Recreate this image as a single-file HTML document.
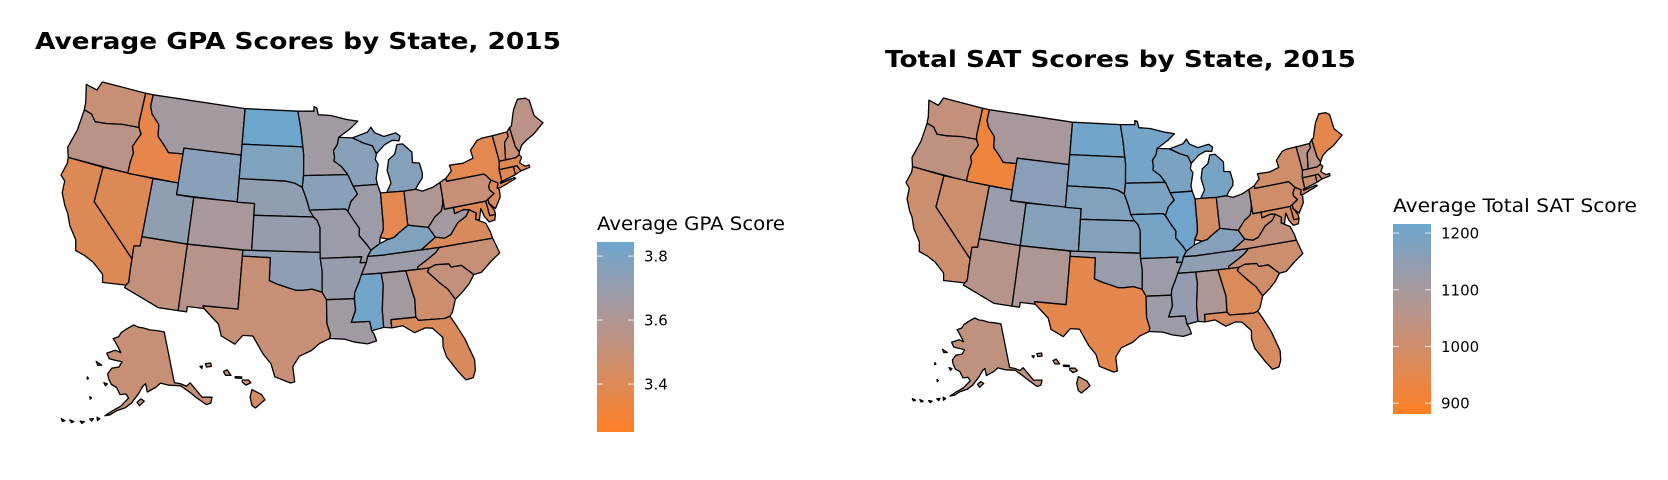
<!DOCTYPE html>
<html><head><meta charset="utf-8">
<style>
html,body{margin:0;padding:0;background:#fff;}
svg{display:block;}
text{font-family:"DejaVu Sans","Liberation Sans",sans-serif;}
</style></head>
<body>
<svg id="chart" width="1668" height="480" viewBox="0 0 1668 480" xmlns="http://www.w3.org/2000/svg">
<rect width="1668" height="480" fill="#fff"/>
<text x="35" y="49" font-size="23" font-weight="bold" textLength="526" lengthAdjust="spacingAndGlyphs">Average GPA Scores by State, 2015</text>
<text x="885" y="67" font-size="23" font-weight="bold" textLength="471" lengthAdjust="spacingAndGlyphs">Total SAT Scores by State, 2015</text>
<g id="gpaMap"></g>
<g id="satMap"></g>
<g id="gpaLegend"></g>
<g id="satLegend"></g>
</svg>
<script>
// ---- data ----
const states = ["WA","OR","CA","NV","ID","MT","WY","UT","CO","AZ","NM","ND","SD","NE","KS","OK","TX","MN","IA","MO","AR","LA","WI","IL","MI","IN","OH","KY","TN","MS","AL","GA","FL","SC","NC","VA","WV","PA","NY","VT","NH","ME","MA","CT","RI","NJ","DE","MD","AK","HI"];
const gpaValues = [3.50,3.55,3.40,3.40,3.36,3.65,3.75,3.72,3.63,3.52,3.57,3.84,3.78,3.72,3.70,3.73,3.50,3.66,3.75,3.68,3.70,3.66,3.75,3.68,3.76,3.38,3.60,3.78,3.68,3.82,3.65,3.47,3.42,3.52,3.50,3.42,3.65,3.50,3.38,3.45,3.50,3.55,3.40,3.40,3.40,3.42,3.45,3.40,3.50,3.45];
const satValues = [1030,1040,1010,1005,920,1095,1160,1130,1165,1060,1080,1205,1190,1175,1170,1130,950,1200,1185,1195,1125,1120,1190,1210,1195,990,1110,1165,1150,1140,1080,970,980,1000,1010,1030,1000,1000,1000,1050,1050,950,1020,1020,990,1000,960,990,1040,1020];
const gpaTicks = [3.4,3.6,3.8];
const gpaTickLabels = ["3.4","3.6","3.8"];
const satTicks = [900,1000,1100,1200];
const satTickLabels = ["900","1000","1100","1200"];
const gpaDomain = [3.25,3.844];
const satDomain = [881,1216];

// ---- geometry (lon/lat outlines) ----
const G = {
WA:[[[-124.7,48.4],[-123.2,48.2],[-122.8,49],[-117.03,49],[-117.03,46.4],[-116.92,46.0],[-119,45.93],[-121,45.65],[-122.3,45.55],[-123.0,46.1],[-124.0,46.27],[-124.1,46.9]]],
OR:[[[-124.0,46.27],[-123.0,46.1],[-122.3,45.55],[-121,45.65],[-119,45.93],[-116.92,46.0],[-116.5,45.5],[-117.2,44.3],[-116.9,43.8],[-117.03,43.0],[-117.03,42.0],[-124.2,42.0],[-124.6,42.8],[-124.1,44.5]]],
CA:[[[-124.2,42],[-120,42],[-120,39],[-114.63,35.0],[-114.6,34.3],[-114.5,33.0],[-114.72,32.72],[-117.12,32.53],[-117.3,33.2],[-118.5,34.0],[-119.6,34.4],[-120.6,34.6],[-120.9,35.5],[-121.9,36.5],[-122.5,37.5],[-123.0,38.0],[-123.7,39.0],[-123.8,40.0],[-124.4,40.4],[-124.1,41.5]]],
NV:[[[-120,42],[-114.04,42],[-114.04,36.2],[-114.7,36.1],[-114.63,35.0],[-120,39]]],
ID:[[[-117.03,49],[-116.05,49],[-116.05,47.98],[-115.7,47.4],[-114.6,46.6],[-114.4,45.6],[-113.4,44.9],[-112.8,44.4],[-111.05,44.5],[-111.05,42],[-117.03,42],[-117.03,43.0],[-116.9,43.8],[-117.2,44.3],[-116.5,45.5],[-116.92,46.0],[-117.03,46.4]]],
MT:[[[-116.05,49],[-104.05,49],[-104.05,45],[-111.05,45],[-111.05,44.5],[-112.8,44.4],[-113.4,44.9],[-114.4,45.6],[-114.6,46.6],[-115.7,47.4],[-116.05,47.98]]],
WY:[[[-111.05,45],[-104.05,45],[-104.05,41],[-111.05,41]]],
UT:[[[-114.04,42],[-111.05,42],[-111.05,41],[-109.05,41],[-109.05,37],[-114.04,37]]],
CO:[[[-109.05,41],[-102.05,41],[-102.05,37],[-109.05,37]]],
AZ:[[[-114.04,37],[-109.05,37],[-109.05,31.33],[-111.07,31.33],[-114.82,32.5],[-114.72,32.72],[-114.5,33.0],[-114.6,34.3],[-114.63,35.0],[-114.7,36.1],[-114.04,36.2]]],
NM:[[[-109.05,37],[-103.0,37],[-103.06,32.0],[-106.62,32.0],[-106.5,31.78],[-108.2,31.78],[-108.2,31.33],[-109.05,31.33]]],
ND:[[[-104.05,49],[-97.23,49],[-96.85,47.6],[-96.56,45.94],[-104.05,45.94]]],
SD:[[[-104.05,45.94],[-96.56,45.94],[-96.45,45.3],[-96.45,43.5],[-96.6,42.5],[-97.5,42.85],[-98.5,43.0],[-104.05,43]]],
NE:[[[-104.05,43],[-98.5,43.0],[-97.5,42.85],[-96.6,42.5],[-96.1,41.5],[-95.9,41.0],[-95.3,40.0],[-102.05,40],[-102.05,41],[-104.05,41]]],
KS:[[[-102.05,40],[-95.3,40.0],[-94.9,39.7],[-94.6,39.1],[-94.62,37],[-102.05,37]]],
OK:[[[-103.0,37],[-94.62,37],[-94.43,35.4],[-94.48,33.64],[-95.5,33.9],[-96.5,33.8],[-97.2,33.8],[-98,34.0],[-99.2,34.3],[-100,34.56],[-100,36.5],[-103.0,36.5]]],
TX:[[[-103.0,36.5],[-100,36.5],[-100,34.56],[-99.2,34.3],[-98,34.0],[-97.2,33.8],[-96.5,33.8],[-95.5,33.9],[-94.48,33.64],[-94.04,33.0],[-94.04,31.0],[-93.7,30.0],[-93.8,29.7],[-94.8,29.3],[-95.6,28.7],[-96.8,28.2],[-97.4,27.3],[-97.2,26.0],[-97.6,25.9],[-99.1,26.4],[-99.5,27.5],[-100.3,28.3],[-101.4,29.8],[-102.4,29.8],[-103.1,29.0],[-104.5,29.6],[-104.9,30.6],[-106.5,31.78],[-106.62,32.0],[-103.06,32.0]]],
MN:[[[-97.23,49],[-95.15,49],[-95.15,49.38],[-94.8,49.3],[-94.6,48.7],[-93.0,48.6],[-91.0,48.2],[-89.6,48.0],[-90.6,47.4],[-92.1,46.7],[-92.3,46.1],[-92.8,45.6],[-92.7,45.0],[-92.8,44.7],[-91.9,44.2],[-91.2,43.5],[-96.45,43.5],[-96.45,45.3],[-96.56,45.94],[-96.85,47.6]]],
WI:[[[-92.1,46.7],[-90.4,46.6],[-89.1,46.1],[-88.0,45.8],[-87.6,45.1],[-87.8,44.6],[-87.5,44.2],[-87.9,43.0],[-87.8,42.5],[-90.64,42.5],[-91.2,43.5],[-91.9,44.2],[-92.8,44.7],[-92.7,45.0],[-92.8,45.6],[-92.3,46.1]]],
MI:[[[-86.8,41.76],[-84.8,41.7],[-83.45,41.73],[-83.1,42.1],[-82.5,42.6],[-82.4,43.0],[-82.6,43.9],[-83.4,44.0],[-83.3,44.9],[-84.3,45.7],[-85.0,45.7],[-85.4,44.9],[-86.2,44.5],[-86.5,43.6],[-86.2,42.5]],[[-90.4,46.6],[-88.5,47.0],[-88,47.4],[-87.6,46.9],[-86.5,46.5],[-85,46.7],[-84.5,46.4],[-84.7,46.0],[-85.5,46.1],[-86.5,45.8],[-87.6,45.1],[-88.0,45.8],[-89.1,46.1]]],
IA:[[[-96.45,43.5],[-91.2,43.5],[-90.64,42.5],[-90.2,41.8],[-91.0,41.2],[-91.4,40.4],[-91.7,40.6],[-95.77,40.58],[-95.9,41.0],[-96.1,41.5],[-96.6,42.5]]],
MO:[[[-95.77,40.58],[-91.7,40.6],[-91.4,40.4],[-90.7,39.5],[-90.2,38.9],[-90.3,38.3],[-89.5,37.5],[-89.1,37.0],[-89.5,36.5],[-89.7,36.0],[-90.37,36.0],[-90.15,36.5],[-94.62,36.5],[-94.62,37],[-94.6,39.1],[-94.9,39.7],[-95.3,40.0]]],
AR:[[[-94.62,36.5],[-90.15,36.5],[-90.37,36.0],[-89.7,36.0],[-90.1,35.0],[-90.6,34.4],[-91.1,33.5],[-91.17,33.0],[-94.04,33.0],[-94.48,33.64],[-94.43,35.4]]],
LA:[[[-94.04,33.0],[-91.17,33.0],[-91.1,32.0],[-91.6,31.0],[-89.75,31.0],[-89.6,30.2],[-89.4,29.9],[-89.2,29.3],[-90.1,29.1],[-91.3,29.3],[-92.3,29.6],[-93.8,29.7],[-93.7,30.0],[-94.04,31.0]]],
MS:[[[-91.17,33.0],[-91.1,33.5],[-90.6,34.4],[-90.3,35.0],[-88.2,35.0],[-88.1,34.0],[-88.4,31.9],[-88.4,30.4],[-89.6,30.2],[-89.75,31.0],[-91.6,31.0],[-91.1,32.0]]],
AL:[[[-88.2,35.0],[-85.6,35.0],[-85.0,32.5],[-85.1,31.0],[-87.6,31.0],[-87.6,30.3],[-88.4,30.4],[-88.4,31.9],[-88.1,34.0]]],
TN:[[[-90.3,35.0],[-89.7,36.0],[-89.5,36.5],[-88.0,36.5],[-81.7,36.6],[-82.2,36.2],[-83.0,35.8],[-84.3,35.2],[-84.3,35.0],[-88.2,35.0]]],
KY:[[[-89.5,36.5],[-89.1,37.0],[-88.1,37.5],[-87.1,37.8],[-86.5,37.9],[-85.8,38.3],[-84.8,38.8],[-83.7,38.6],[-82.6,38.4],[-81.97,37.5],[-83.7,36.6],[-88.0,36.5]]],
IL:[[[-90.64,42.5],[-87.8,42.5],[-87.53,41.76],[-87.53,39.3],[-87.6,38.6],[-88.0,38.0],[-88.1,37.5],[-89.1,37.0],[-89.5,37.5],[-90.3,38.3],[-90.2,38.9],[-90.7,39.5],[-91.4,40.4],[-91.0,41.2],[-90.2,41.8]]],
IN:[[[-87.53,41.76],[-84.8,41.7],[-84.82,39.1],[-84.8,38.8],[-85.8,38.3],[-86.5,37.9],[-87.1,37.8],[-88.0,38.0],[-87.6,38.6],[-87.53,39.3]]],
OH:[[[-84.8,41.7],[-83.45,41.73],[-82.7,41.5],[-81.4,41.7],[-80.52,42.0],[-80.52,40.64],[-80.6,40.2],[-80.9,39.6],[-81.7,39.2],[-82.6,38.4],[-83.7,38.6],[-84.8,38.8],[-84.82,39.1]]],
WV:[[[-80.52,40.64],[-80.52,39.72],[-79.48,39.72],[-79.48,39.2],[-78.4,39.4],[-77.8,39.3],[-78.3,38.8],[-79.3,38.4],[-80.3,37.5],[-81.0,37.3],[-81.97,37.5],[-82.6,38.4],[-81.7,39.2],[-80.9,39.6],[-80.6,40.2]]],
VA:[[[-83.7,36.6],[-81.97,37.5],[-81.0,37.3],[-80.3,37.5],[-79.3,38.4],[-78.3,38.8],[-77.8,39.3],[-77.1,38.9],[-77.3,38.4],[-76.3,37.9],[-76.0,37.1],[-75.9,36.55],[-81.7,36.6]]],
NC:[[[-84.3,35.0],[-84.3,35.2],[-83.0,35.8],[-82.2,36.2],[-81.7,36.6],[-75.9,36.55],[-75.5,35.2],[-76.5,34.7],[-77.8,33.9],[-78.6,33.85],[-79.7,34.8],[-80.8,34.8],[-81.0,35.1],[-82.4,35.2],[-83.1,35.0]]],
SC:[[[-83.1,35.0],[-82.4,35.2],[-81.0,35.1],[-80.8,34.8],[-79.7,34.8],[-78.6,33.85],[-79.2,33.2],[-80.0,32.6],[-80.9,32.05],[-81.5,33.0],[-82.2,33.6],[-83.35,34.7]]],
GA:[[[-85.6,35.0],[-83.1,35.0],[-83.35,34.7],[-82.2,33.6],[-81.5,33.0],[-80.9,32.05],[-81.4,31.0],[-81.7,30.7],[-82.2,30.57],[-84.86,30.7],[-85.1,31.0],[-85.0,32.5]]],
FL:[[[-87.6,31.0],[-85.1,31.0],[-84.86,30.7],[-82.2,30.57],[-81.7,30.7],[-81.3,30.0],[-80.6,28.6],[-80.0,26.7],[-80.1,25.8],[-80.4,25.2],[-81.1,25.1],[-81.7,25.9],[-82.6,27.3],[-82.8,28.2],[-82.7,29.0],[-83.6,29.9],[-84.3,30.0],[-85.4,29.7],[-86.5,30.4],[-87.6,30.3]]],
PA:[[[-80.52,42.0],[-79.76,42.27],[-79.76,42.0],[-75.35,42.0],[-75.1,41.8],[-74.7,41.35],[-75.1,40.9],[-75.1,40.6],[-74.7,40.2],[-75.5,39.83],[-75.8,39.72],[-80.52,39.72],[-80.52,40.64]]],
NY:[[[-79.76,42.0],[-79.76,42.27],[-79.0,42.8],[-79.1,43.3],[-77.5,43.25],[-76.2,43.5],[-76.3,44.2],[-75.3,44.9],[-74.7,45.0],[-73.35,45.0],[-73.3,44.0],[-73.25,42.75],[-73.5,42.05],[-73.5,41.1],[-73.7,40.9],[-72.0,41.1],[-71.9,41.0],[-73.9,40.55],[-74.2,40.6],[-74.0,41.0],[-74.7,41.35],[-75.1,41.8],[-75.35,42.0]]],
NJ:[[[-74.7,41.35],[-74.0,41.0],[-74.2,40.6],[-74.0,40.4],[-74.1,39.8],[-74.9,38.93],[-75.5,39.5],[-75.5,39.83],[-74.7,40.2],[-75.1,40.6],[-75.1,40.9]]],
DE:[[[-75.8,39.72],[-75.5,39.83],[-75.5,39.5],[-75.05,38.8],[-75.05,38.45],[-75.7,38.45]]],
MD:[[[-79.48,39.72],[-75.8,39.72],[-75.7,38.45],[-75.05,38.45],[-75.25,38.0],[-75.9,37.95],[-76.3,38.5],[-76.5,39.2],[-76.9,38.3],[-77.3,38.4],[-77.1,38.9],[-77.8,39.3],[-78.4,39.4],[-79.48,39.2]]],
CT:[[[-73.5,42.05],[-71.8,42.02],[-71.8,41.33],[-73.7,41.0],[-73.5,41.1]]],
RI:[[[-71.8,42.02],[-71.4,42.02],[-71.1,41.5],[-71.8,41.33]]],
MA:[[[-73.5,42.05],[-73.25,42.75],[-71.3,42.7],[-70.8,42.87],[-70.6,42.6],[-71.0,42.2],[-70.5,41.8],[-70.0,41.8],[-70.0,41.6],[-71.1,41.5],[-71.4,42.02],[-71.8,42.02]]],
VT:[[[-73.35,45.0],[-71.5,45.0],[-71.5,44.6],[-72.1,44.2],[-72.5,42.73],[-73.25,42.75],[-73.3,44.0]]],
NH:[[[-71.5,45.0],[-71.08,45.3],[-70.98,43.6],[-70.7,43.1],[-70.8,42.87],[-71.3,42.7],[-72.5,42.73],[-72.1,44.2],[-71.5,44.6]]],
ME:[[[-71.08,45.3],[-70.8,45.4],[-70.2,46.4],[-70.0,46.7],[-69.2,47.45],[-68.2,47.35],[-67.8,47.07],[-67.78,45.7],[-67.0,44.9],[-68.5,44.2],[-69.5,43.9],[-70.2,43.6],[-70.7,43.1],[-70.98,43.6]]],
AK:[[[-141,69.6],[-141,60.3],[-139,59.9],[-137,59.2],[-135.5,59.6],[-133,56.5],[-130.0,55.9],[-131,55],[-132.5,55],[-134.5,56.5],[-136.5,58],[-139,59.5],[-143,60],[-146,60.6],[-148,59.9],[-151,59.2],[-151.5,60.7],[-152.5,60.3],[-154,59],[-156.5,57.2],[-158.5,56.3],[-161,55.7],[-163,54.8],[-164.5,54.5],[-162.5,55.5],[-160,56.5],[-157.5,58.1],[-158.5,58.8],[-160.5,58.6],[-162,59.8],[-164,60.2],[-165.3,61.1],[-166,62],[-164.8,63.1],[-162,63.5],[-161,64.5],[-164,64.6],[-166.5,64.7],[-168,65.6],[-164.5,66.4],[-162,66.1],[-163.7,67.1],[-165.5,68],[-166.5,68.4],[-164,68.9],[-163,69.7],[-160,70.6],[-156.8,71.3],[-154,70.9],[-152,70.8],[-148,70.3],[-145,70.1]],
 [[-154.6,57.4],[-153.3,58.0],[-152.2,57.6],[-153.8,56.8]],
 [[-171.5,63.7],[-169,63.3],[-170.5,63.1]],
 [[-166.8,60.3],[-165.5,60.2],[-166,59.8]],
 [[-166.8,54.0],[-165.9,53.8],[-166.5,53.4]],
 [[-168.9,53.4],[-167.8,53.6],[-168.2,53.1]],
 [[-171.5,52.6],[-170.3,52.7],[-170.8,52.3]],
 [[-174.5,52.3],[-173.2,52.2],[-173.8,51.9]],
 [[-177,52.0],[-175.8,51.9],[-176.4,51.6]],
 [[-170.5,57.3],[-169.9,57.2],[-170.2,56.9]],
 [[-173.2,60.6],[-172.6,60.4],[-173.0,60.2]]],
HI:[[[-155.9,20.25],[-155.1,19.9],[-154.8,19.5],[-155.6,18.9],[-155.9,19.1],[-156.05,19.7]],
 [[-156.7,20.95],[-156.2,20.95],[-155.98,20.75],[-156.4,20.58],[-156.7,20.8]],
 [[-157.3,21.2],[-156.75,21.18],[-156.75,21.08],[-157.3,21.1]],
 [[-158.28,21.57],[-157.98,21.7],[-157.65,21.3],[-158.1,21.3]],
 [[-159.8,22.15],[-159.35,22.2],[-159.3,21.95],[-159.7,21.9]],
 [[-160.25,21.95],[-160.05,21.98],[-160.1,21.8]]]
};

function albers(lat1,lat2,lat0,lon0){
  const r=Math.PI/180, p1=lat1*r,p2=lat2*r;
  const n=(Math.sin(p1)+Math.sin(p2))/2, C=Math.cos(p1)**2+2*n*Math.sin(p1);
  const rho0=Math.sqrt(C-2*n*Math.sin(lat0*r))/n;
  return ([lon,lat])=>{const rho=Math.sqrt(C-2*n*Math.sin(lat*r))/n, th=n*(lon-lon0)*r;
    return [rho*Math.sin(th), -(rho0-rho*Math.cos(th))];};
}
const projL48 = albers(29.5,45.5,37.5,-96);
const projAK = albers(55,65,50,-154);
const projHI = ([lon,lat])=>[lon*Math.cos(20.8*Math.PI/180), -lat];

function bounds(proj, rings){
  let x0=1e9,x1=-1e9,y0=1e9,y1=-1e9;
  rings.forEach(r=>r.forEach(p=>{const q=proj(p);x0=Math.min(x0,q[0]);x1=Math.max(x1,q[0]);y0=Math.min(y0,q[1]);y1=Math.max(y1,q[1]);}));
  return [x0,y0,x1,y1];
}
function fitter(proj, keys, box){
  const rings=[]; keys.forEach(k=>G[k].forEach(r=>rings.push(r)));
  const [x0,y0,x1,y1]=bounds(proj,rings);
  const sx=(box[2]-box[0])/(x1-x0), sy=(box[3]-box[1])/(y1-y0);
  return p=>{const q=proj(p);return [box[0]+(q[0]-x0)*sx, box[1]+(q[1]-y0)*sy];};
}
// uniform fit using a reference ring's width, anchored top-left
function fitUniform(proj, ring, x0p, x1p, y0p){
  const [x0,y0,x1]=bounds(proj,[ring]);
  const s=(x1p-x0p)/(x1-x0);
  return p=>{const q=proj(p);return [x0p+(q[0]-x0)*s, y0p+(q[1]-y0)*s];};
}

const orange=[255,127,39], mid=[188,147,133], mid2=[152,156,172], blue=[108,166,206];
function colorAt(t){
  t=Math.max(0,Math.min(1,t));
  const stops=[[0,orange],[0.5,mid],[0.75,mid2],[1,blue]];
  for(let i=1;i<stops.length;i++){ if(t<=stops[i][0]){const a=stops[i-1],b=stops[i],u=(t-a[0])/(b[0]-a[0]);
    return 'rgb('+a[1].map((c,j)=>Math.round(c+(b[1][j]-c)*u)).join(',')+')';}}
  return 'rgb('+blue.join(',')+')';
}
function colorScale(domain){return v=>colorAt((v-domain[0])/(domain[1]-domain[0]));}

const NS='http://www.w3.org/2000/svg';
function drawMap(gid, values, domain, boxL48, akBox, boxHI, prefix){
  const g=document.getElementById(gid);
  const l48=states.filter(s=>s!=='AK'&&s!=='HI');
  const fL=fitter(projL48,l48,boxL48), fA=fitUniform(projAK,G.AK[0],akBox[0],akBox[1],akBox[2]), fH=fitter(projHI,['HI'],boxHI);
  const col=colorScale(domain);
  states.forEach((s,i)=>{
    const f = s==='AK'?fA:(s==='HI'?fH:fL);
    const d=G[s].map(r=>'M'+r.map(p=>f(p).map(v=>v.toFixed(1)).join(',')).join('L')+'Z').join('');
    const path=document.createElementNS(NS,'path');
    path.setAttribute('d',d);
    path.setAttribute('fill',col(values[i]));
    path.setAttribute('stroke','#000');
    path.setAttribute('stroke-width','1.3');
    path.setAttribute('stroke-linejoin','round');
    
    
    g.appendChild(path);
  });
}
drawMap('gpaMap',gpaValues,gpaDomain,[61,82,543,383],[105,212,325],[200,363,265,408],'gpa');
drawMap('satMap',satValues,satDomain,[906,98,1342,372],[950,1042,318],[1032,353,1090,393],'sat');

function drawLegend(gid, title, domain, ticks, labels, bx, by0, by1, bw, titleY, titleLen, idn){
  const g=document.getElementById(gid);
  const defs=document.createElementNS(NS,'defs');
  const lg=document.createElementNS(NS,'linearGradient');
  lg.setAttribute('id',idn); lg.setAttribute('x1','0'); lg.setAttribute('y1','1'); lg.setAttribute('x2','0'); lg.setAttribute('y2','0');
  for(let k=0;k<=20;k++){const st=document.createElementNS(NS,'stop');st.setAttribute('offset',k/20);st.setAttribute('stop-color',colorAt(k/20));lg.appendChild(st);}
  defs.appendChild(lg); g.appendChild(defs);
  const t=document.createElementNS(NS,'text');
  t.setAttribute('x',bx); t.setAttribute('y',titleY); t.setAttribute('font-size','19');
  t.setAttribute('textLength',titleLen); t.setAttribute('lengthAdjust','spacingAndGlyphs');
  t.textContent=title;
  
  
  g.appendChild(t);
  const r=document.createElementNS(NS,'rect');
  r.setAttribute('x',bx); r.setAttribute('y',by0); r.setAttribute('width',bw); r.setAttribute('height',by1-by0);
  r.setAttribute('fill','url(#'+idn+')');
  
  
  g.appendChild(r);
  const yS=v=>by1-(v-domain[0])/(domain[1]-domain[0])*(by1-by0);
  ticks.forEach((v,i)=>{
    const y=yS(v);
    [[bx,bx+6],[bx+bw-6,bx+bw]].forEach(([a,b])=>{
      const ln=document.createElementNS(NS,'line');
      ln.setAttribute('x1',a);ln.setAttribute('x2',b);ln.setAttribute('y1',y);ln.setAttribute('y2',y);
      ln.setAttribute('stroke','#fff');ln.setAttribute('stroke-width','1');ln.setAttribute('opacity','0.8');
      
      
      g.appendChild(ln);
    });
    const tx=document.createElementNS(NS,'text');
    tx.setAttribute('x',bx+bw+10); tx.setAttribute('y',y+5.5); tx.setAttribute('font-size','15');
    tx.textContent=labels[i];
    
    
    g.appendChild(tx);
  });
}
drawLegend('gpaLegend','Average GPA Score',gpaDomain,gpaTicks,gpaTickLabels,597,242,432,37,230,188,'gpa-legend');
drawLegend('satLegend','Average Total SAT Score',satDomain,satTicks,satTickLabels,1393,224,414,38,212,244,'sat-legend');
</script>
</body></html>
